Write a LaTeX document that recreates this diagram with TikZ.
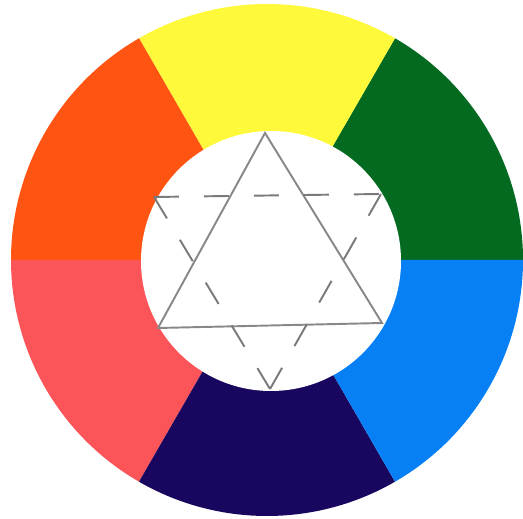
\documentclass[tikz,border=0pt]{standalone}
\usepackage{xcolor}
\usepackage{tikz}
\usetikzlibrary{calc}
\definecolor{cYellow}{HTML}{FFF93C}
\definecolor{cOrange}{HTML}{FF5412}
\definecolor{cGreen}{HTML}{036A20}
\definecolor{cBlue}{HTML}{0880F5}
\definecolor{cNavy}{HTML}{19065F}
\definecolor{cPink}{HTML}{FC5559}
\definecolor{cLine}{HTML}{888888}
\tikzset{
  wedge/.style={draw=none},
  hole/.style={fill=white, draw=none},
  solidtri/.style={draw=cLine, line width=1.1pt, line join=miter},
  dashtri/.style={draw=cLine!90!black, line width=1.1pt, dash pattern=on 0.5cm off 0.5cm},
}

\begin{document}
\begin{tikzpicture}[x=0.02cm, y=0.02cm]
  \useasboundingbox (0,0) rectangle (523,519);
  \coordinate (c) at (267,259);
  \coordinate (ci) at (271,258);
  \foreach \col [count=\i] in {cGreen, cYellow, cOrange, cPink, cNavy, cBlue}
    \fill[wedge, \col] (c) -- ++({60*(\i-1)}:256) arc[start angle={60*(\i-1)}, end angle={60*\i}, radius=256] -- cycle;
  \fill[hole] (ci) circle[radius=130];
  \coordinate (up) at (265,386);
  \coordinate (ul) at (158,191);
  \coordinate (ur) at (382,196);
  \coordinate (dl) at (154,322);
  \coordinate (dr) at (381,325);
  \coordinate (dn) at (270,130);
  \draw[solidtri] (up) -- (ul) -- (ur) -- cycle;
  \draw[dashtri] (dl) -- (dr);
  \draw[dashtri] (dl) -- (dn);
  \draw[dashtri] (dr) -- (dn);
\end{tikzpicture}
\end{document}
